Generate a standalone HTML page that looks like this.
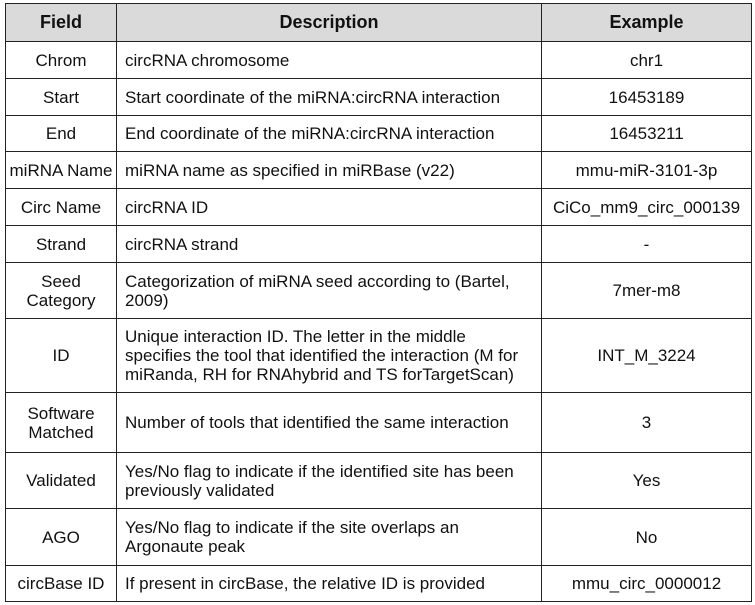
<!DOCTYPE html>
<html><head><style>
body{margin:0;background:#fff;width:755px;height:605px;overflow:hidden}
table{position:absolute;left:5px;top:3px;border-collapse:collapse;font-family:"Liberation Sans",Arial,sans-serif;font-size:17px;color:#111;table-layout:fixed}
td,th{border:1.5px solid #222;padding:0 8px;line-height:19px;overflow:hidden}
th{background:#dadada;font-size:18px;font-weight:bold;text-align:center}
td.c{text-align:center}
</style></head><body>
<table>
<colgroup><col style="width:111px"><col style="width:425px"><col style="width:210px"></colgroup>
<tr style="height:38px"><th>Field</th><th>Description</th><th>Example</th></tr>
<tr style="height:37px"><td class="c">Chrom</td><td>circRNA chromosome</td><td class="c">chr1</td></tr>
<tr style="height:37px"><td class="c">Start</td><td>Start coordinate of the miRNA:circRNA interaction</td><td class="c">16453189</td></tr>
<tr style="height:36px"><td class="c">End</td><td>End coordinate of the miRNA:circRNA interaction</td><td class="c">16453211</td></tr>
<tr style="height:37px"><td class="c" style="padding:0;white-space:nowrap">miRNA Name</td><td>miRNA name as specified in miRBase (v22)</td><td class="c">mmu-miR-3101-3p</td></tr>
<tr style="height:37px"><td class="c">Circ Name</td><td>circRNA ID</td><td class="c" style="padding:0">CiCo_mm9_circ_000139</td></tr>
<tr style="height:37px"><td class="c">Strand</td><td>circRNA strand</td><td class="c">-</td></tr>
<tr style="height:56px"><td class="c">Seed Category</td><td>Categorization of miRNA seed according to (Bartel, 2009)</td><td class="c">7mer-m8</td></tr>
<tr style="height:74px"><td class="c">ID</td><td>Unique interaction ID. The letter in the middle specifies the tool that identified the interaction (M for miRanda, RH for RNAhybrid and TS forTargetScan)</td><td class="c">INT_M_3224</td></tr>
<tr style="height:60px"><td class="c">Software Matched</td><td>Number of tools that identified the same interaction</td><td class="c">3</td></tr>
<tr style="height:56px"><td class="c">Validated</td><td>Yes/No flag to indicate if the identified site has been previously validated</td><td class="c">Yes</td></tr>
<tr style="height:57px"><td class="c">AGO</td><td>Yes/No flag to indicate if the site overlaps an Argonaute peak</td><td class="c">No</td></tr>
<tr style="height:36px"><td class="c" style="padding:0;white-space:nowrap">circBase ID</td><td>If present in circBase, the relative ID is provided</td><td class="c">mmu_circ_0000012</td></tr>
</table>
</body></html>
